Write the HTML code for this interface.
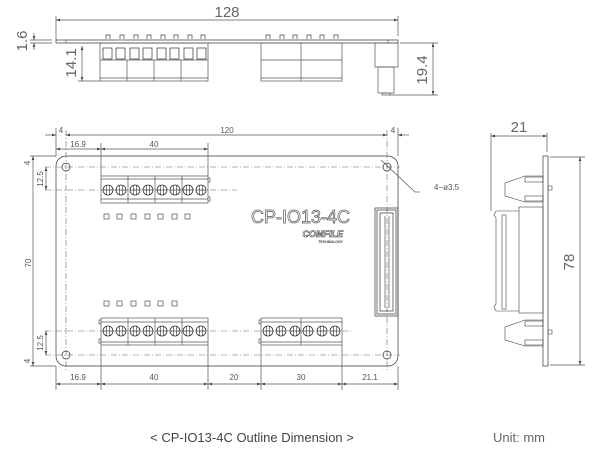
<!DOCTYPE html>
<html><head><style>
html,body{margin:0;padding:0;background:#fff;}
svg{display:block;font-family:"Liberation Sans",sans-serif;}
</style></head><body>
<svg width="600" height="458" viewBox="0 0 600 458" xmlns="http://www.w3.org/2000/svg">
<defs>
<marker id="a" viewBox="0 0 6 4" refX="6" refY="2" markerWidth="6" markerHeight="4" orient="auto-start-reverse"><path d="M0,0L6,2L0,4z" fill="#444"/></marker>
<g id="scr"><circle r="5" fill="none" stroke="#333" stroke-width="0.8"/><line x1="-1.3" y1="-5" x2="-1.3" y2="5" stroke="#333" stroke-width="0.6"/><line x1="1.3" y1="-5" x2="1.3" y2="5" stroke="#333" stroke-width="0.6"/><line x1="-5" y1="0" x2="5" y2="0" stroke="#333" stroke-width="0.6"/></g>
</defs>
<g stroke="#555" stroke-width="0.7" fill="none">
<!-- TOP VIEW -->
<line x1="56" y1="20" x2="398" y2="20" marker-start="url(#a)" marker-end="url(#a)"/>
<line x1="56" y1="16" x2="56" y2="40"/><line x1="398" y1="16" x2="398" y2="36"/>
<rect x="56" y="40" width="342" height="3" stroke="#333"/>
<line x1="66" y1="40" x2="66" y2="43"/><line x1="388" y1="40" x2="388" y2="43"/>
<line x1="30" y1="40" x2="52" y2="40"/><line x1="30" y1="43" x2="52" y2="43"/>
<line x1="34" y1="33" x2="34" y2="40" marker-end="url(#a)"/><line x1="34" y1="50" x2="34" y2="43" marker-end="url(#a)"/>
<line x1="82" y1="46" x2="82" y2="81" marker-start="url(#a)" marker-end="url(#a)"/>
<line x1="78" y1="81" x2="100" y2="81"/>
<rect x="100" y="43" width="108" height="38"/>
<line x1="100" y1="60" x2="208" y2="60"/>
<line x1="127" y1="60" x2="127" y2="81"/><line x1="154" y1="60" x2="154" y2="81"/><line x1="181" y1="60" x2="181" y2="81"/>
<line x1="100" y1="78" x2="208" y2="78"/>
<g stroke="#333">
<rect x="103" y="48" width="9" height="11"/><rect x="116" y="48" width="9" height="11"/><rect x="130" y="48" width="9" height="11"/><rect x="143" y="48" width="9" height="11"/><rect x="157" y="48" width="9" height="11"/><rect x="170" y="48" width="9" height="11"/><rect x="184" y="48" width="9" height="11"/><rect x="197" y="48" width="9" height="11"/>
</g>
<g stroke="#444">
<path d="M106,39v-4h4v4M120,39v-4h4v4M134,39v-4h4v4M147,39v-4h4v4M161,39v-4h4v4M174,39v-4h4v4M188,39v-4h4v4M201,39v-4h4v4"/>
<path d="M266,39v-4h4v4M280,39v-4h4v4M293,39v-4h4v4M307,39v-4h4v4M320,39v-4h4v4M334,39v-4h4v4"/>
</g>
<rect x="261" y="43" width="81" height="38"/>
<line x1="261" y1="60" x2="342" y2="60"/><line x1="301" y1="43" x2="301" y2="81"/><line x1="261" y1="78" x2="342" y2="78"/>
<rect x="375" y="43" width="23" height="24"/>
<rect x="378" y="67" width="16" height="26"/>
<rect x="382" y="93" width="8" height="2"/>
<line x1="400" y1="43" x2="438" y2="43"/><line x1="390" y1="95" x2="438" y2="95"/>
<line x1="433" y1="43" x2="433" y2="95" marker-start="url(#a)" marker-end="url(#a)"/>
<!-- FRONT VIEW -->
<path d="M66,156H388a10,10 0 0 1 10,10V356a10,10 0 0 1-10,10H66a10,10 0 0 1-10-10V166a10,10 0 0 1 10-10z" stroke="#333"/>
<g stroke-dasharray="6,2,1,2" stroke="#666" stroke-width="0.6">
<line x1="66" y1="130" x2="66" y2="372"/><line x1="387" y1="130" x2="387" y2="372"/>
<line x1="45" y1="167" x2="400" y2="167"/><line x1="45" y1="355" x2="400" y2="355"/>
<line x1="45" y1="190" x2="237" y2="190"/><line x1="45" y1="331" x2="352" y2="331"/>
</g>
<g stroke="#333"><circle cx="66" cy="167" r="4"/><circle cx="387" cy="167" r="4"/><circle cx="66" cy="355" r="4"/><circle cx="387" cy="355" r="4"/></g>
<line x1="381" y1="160" x2="415" y2="192"/><line x1="415" y1="192" x2="420" y2="192"/>
<line x1="56" y1="128" x2="56" y2="156"/><line x1="398" y1="128" x2="398" y2="156"/>
<line x1="66" y1="135" x2="387" y2="135" marker-start="url(#a)" marker-end="url(#a)"/>
<line x1="45" y1="135" x2="56" y2="135" marker-end="url(#a)"/><line x1="409" y1="135" x2="398" y2="135" marker-end="url(#a)"/>
<line x1="101" y1="143" x2="101" y2="176"/><line x1="208" y1="143" x2="208" y2="176"/>
<line x1="56" y1="149" x2="101" y2="149" marker-start="url(#a)" marker-end="url(#a)"/>
<line x1="101" y1="149" x2="208" y2="149" marker-start="url(#a)" marker-end="url(#a)"/>
<line x1="30" y1="156" x2="56" y2="156"/><line x1="30" y1="366" x2="56" y2="366"/>
<line x1="33" y1="156" x2="33" y2="366" marker-start="url(#a)" marker-end="url(#a)"/>
<line x1="46" y1="167" x2="46" y2="190" marker-start="url(#a)" marker-end="url(#a)"/>
<line x1="46" y1="331" x2="46" y2="355" marker-start="url(#a)" marker-end="url(#a)"/>
<!-- top block -->
<rect x="101" y="176" width="107" height="27"/>
<line x1="101" y1="179" x2="208" y2="179"/><line x1="101" y1="199" x2="208" y2="199"/>
<line x1="128" y1="176" x2="128" y2="203"/><line x1="155" y1="176" x2="155" y2="203"/><line x1="182" y1="176" x2="182" y2="203"/>
<path d="M208,178h2v4h-2M208,197h2v4h-2"/>
<!-- bottom blocks -->
<rect x="101" y="318" width="107" height="27"/>
<line x1="101" y1="322" x2="208" y2="322"/><line x1="101" y1="342" x2="208" y2="342"/>
<line x1="128" y1="318" x2="128" y2="345"/><line x1="155" y1="318" x2="155" y2="345"/><line x1="182" y1="318" x2="182" y2="345"/>
<path d="M101,320h-2v4h2M101,339h-2v4h2"/>
<rect x="261" y="318" width="81" height="27"/>
<line x1="261" y1="322" x2="342" y2="322"/><line x1="261" y1="342" x2="342" y2="342"/>
<line x1="301" y1="318" x2="301" y2="345"/>
<path d="M261,320h-2v4h2M261,339h-2v4h2"/>
<!-- LEDs -->
<g stroke="#333" stroke-width="0.6">
<rect x="104" y="214" width="5" height="5"/><rect x="117" y="214" width="5" height="5"/><rect x="131" y="214" width="5" height="5"/><rect x="145" y="214" width="5" height="5"/><rect x="158" y="214" width="5" height="5"/><rect x="172" y="214" width="5" height="5"/><rect x="185" y="214" width="5" height="5"/>
<rect x="104" y="301" width="5" height="5"/><rect x="117" y="301" width="5" height="5"/><rect x="131" y="301" width="5" height="5"/><rect x="145" y="301" width="5" height="5"/><rect x="158" y="301" width="5" height="5"/><rect x="172" y="301" width="5" height="5"/>
</g>
<!-- connector -->
<rect x="375" y="208" width="23" height="108" stroke="#333"/>
<rect x="377" y="210" width="19" height="104" stroke="#333"/>
<rect x="380" y="213" width="13" height="98" stroke="#333"/>
<line x1="385" y1="216" x2="385" y2="308"/><line x1="389" y1="216" x2="389" y2="308"/>
<!-- bottom dims -->
<line x1="56" y1="366" x2="56" y2="390"/><line x1="101" y1="345" x2="101" y2="390"/><line x1="208" y1="345" x2="208" y2="390"/><line x1="261" y1="345" x2="261" y2="390"/><line x1="342" y1="345" x2="342" y2="390"/><line x1="398" y1="366" x2="398" y2="390"/>
<line x1="56" y1="384" x2="101" y2="384" marker-start="url(#a)" marker-end="url(#a)"/>
<line x1="101" y1="384" x2="208" y2="384" marker-start="url(#a)" marker-end="url(#a)"/>
<line x1="208" y1="384" x2="261" y2="384" marker-start="url(#a)" marker-end="url(#a)"/>
<line x1="261" y1="384" x2="342" y2="384" marker-start="url(#a)" marker-end="url(#a)"/>
<line x1="342" y1="384" x2="398" y2="384" marker-start="url(#a)" marker-end="url(#a)"/>
<!-- SIDE VIEW -->
<line x1="491" y1="133" x2="491" y2="211"/><line x1="547" y1="133" x2="547" y2="152"/>
<line x1="491" y1="136" x2="547" y2="136" marker-start="url(#a)" marker-end="url(#a)"/>
<rect x="543" y="156" width="5" height="210" stroke="#333"/>
<line x1="550" y1="157" x2="585" y2="157"/><line x1="550" y1="365" x2="585" y2="365"/>
<line x1="580" y1="157" x2="580" y2="365" marker-start="url(#a)" marker-end="url(#a)"/>
<g stroke="#444" stroke-width="0.6">
<path d="M543,176h-18l-20,7v13l20,6h18"/>
<rect x="525" y="177" width="18" height="5"/><rect x="525" y="196" width="18" height="5"/>
<rect x="548" y="186" width="4" height="4"/>
<path d="M543,320h-18l-20,7v13l20,6h18"/>
<rect x="525" y="321" width="18" height="5"/><rect x="525" y="340" width="18" height="5"/>
<rect x="548" y="330" width="4" height="4"/>
<rect x="519" y="207" width="24" height="106"/>
<path d="M519,211h-23l-2,4l2,3v86l-2,3l2,4h23"/>
<rect x="502" y="215" width="4" height="94"/>
</g>
</g>
<g>
<use href="#scr" x="108" y="190"/><use href="#scr" x="121" y="190"/><use href="#scr" x="135" y="190"/><use href="#scr" x="148" y="190"/><use href="#scr" x="162" y="190"/><use href="#scr" x="175" y="190"/><use href="#scr" x="188" y="190"/><use href="#scr" x="201" y="190"/>
<use href="#scr" x="108" y="331"/><use href="#scr" x="121" y="331"/><use href="#scr" x="135" y="331"/><use href="#scr" x="148" y="331"/><use href="#scr" x="162" y="331"/><use href="#scr" x="175" y="331"/><use href="#scr" x="188" y="331"/><use href="#scr" x="201" y="331"/>
<use href="#scr" x="268" y="331"/><use href="#scr" x="281" y="331"/><use href="#scr" x="295" y="331"/><use href="#scr" x="308" y="331"/><use href="#scr" x="322" y="331"/><use href="#scr" x="335" y="331"/>
</g>
<g fill="#666" font-size="15">
<text x="227" y="17" text-anchor="middle">128</text>
<text transform="translate(27,41) rotate(-90)" text-anchor="middle">1.6</text>
<text transform="translate(76,63) rotate(-90)" text-anchor="middle">14.1</text>
<text transform="translate(427,70) rotate(-90)" text-anchor="middle">19.4</text>
<text x="519" y="132" text-anchor="middle">21</text>
<text transform="translate(574,262) rotate(-90)" text-anchor="middle">78</text>
</g>
<g fill="#555" font-size="8" text-anchor="middle">
<text x="61" y="133">4</text><text x="227" y="133">120</text><text x="393" y="133">4</text>
<text x="78" y="147">16.9</text><text x="154" y="147">40</text>
<text transform="translate(43,179) rotate(-90)">12.5</text>
<text transform="translate(43,343) rotate(-90)">12.5</text>
<text transform="translate(30,163) rotate(-90)">4</text>
<text transform="translate(30,361) rotate(-90)">4</text>
<text transform="translate(31,263) rotate(-90)">70</text>
<text x="78" y="380">16.9</text><text x="154" y="380">40</text><text x="234" y="380">20</text><text x="301" y="380">30</text><text x="370" y="380">21.1</text>
<text x="434" y="190" text-anchor="start">4−ø3.5</text>
</g>
<text x="350" y="223" font-size="18" text-anchor="end" fill="#fff" stroke="#555" stroke-width="0.7">CP-IO13-4C</text>
<text x="343" y="237" font-size="9" font-weight="bold" font-style="italic" text-anchor="end" fill="#fff" stroke="#444" stroke-width="0.6">COMFILE</text>
<text x="343" y="243" font-size="3.5" font-weight="bold" text-anchor="end" fill="#333">TECHNOLOGY</text>
<text x="252" y="442" font-size="13" text-anchor="middle" fill="#444">&lt; CP-IO13-4C Outline Dimension &gt;</text>
<text x="519" y="442" font-size="13" text-anchor="middle" fill="#666">Unit: mm</text>
</svg>
</body></html>
